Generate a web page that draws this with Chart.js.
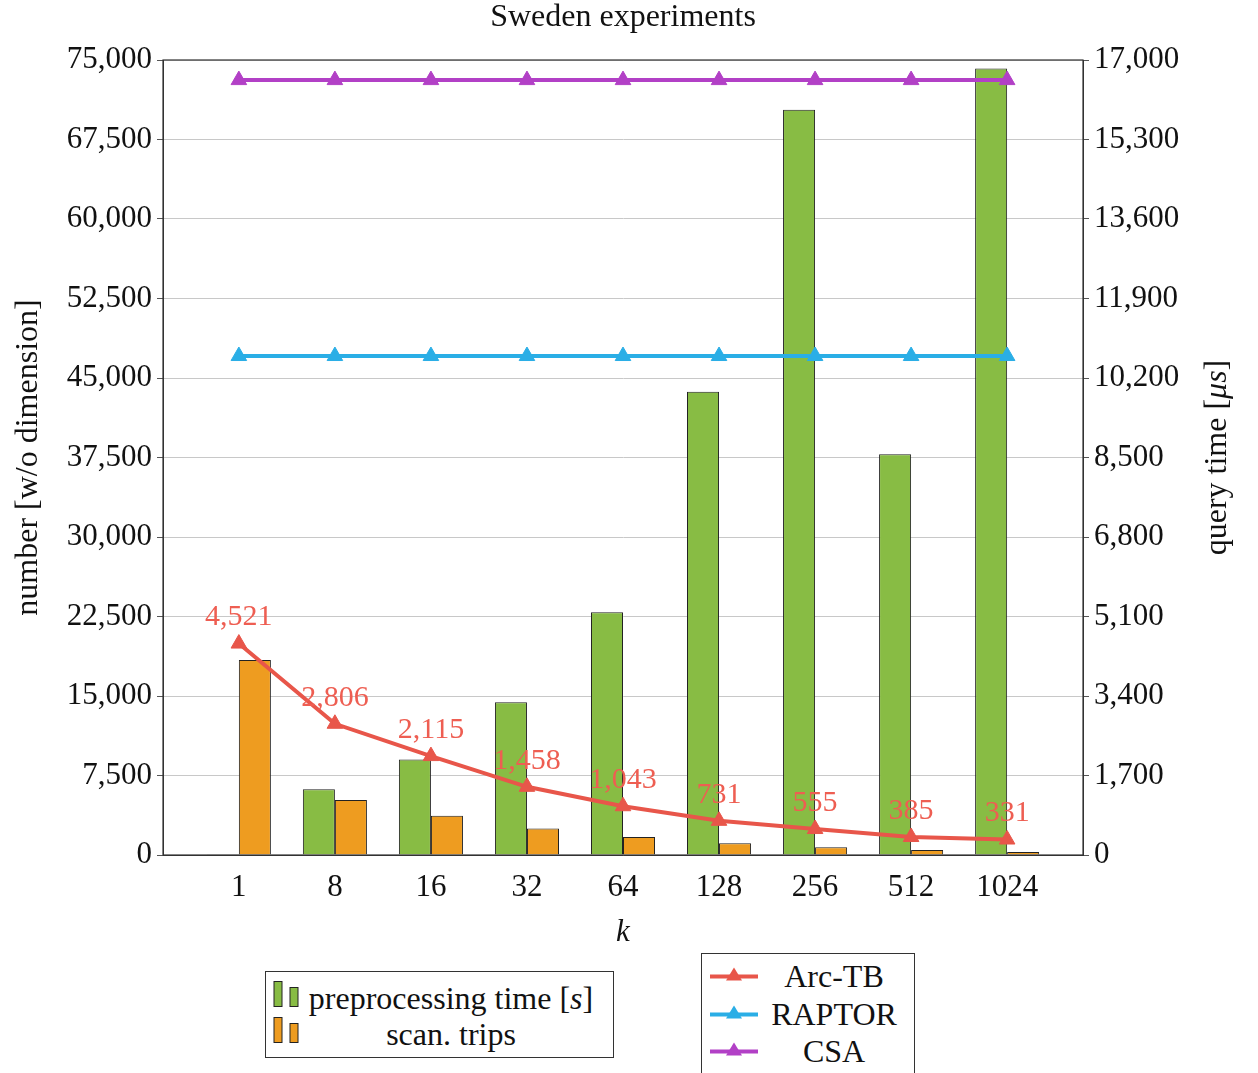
<!DOCTYPE html>
<html>
<head>
<meta charset="utf-8">
<script src="https://cdn.jsdelivr.net/npm/chart.js@4.4.1/dist/chart.umd.min.js"></script>
<style>
  body { margin: 0; background: #fff; }
  #wrap { position: relative; width: 1258px; height: 1073px; overflow: hidden; }
  #chart { position: absolute; left: 0; top: 0; }
  .legend { position: absolute; border: 1px solid #333; background: #fff; box-sizing: border-box;
            font-family: 'Liberation Serif', 'DejaVu Serif', serif; font-size: 32px; color: #111; }
  .legend .row { position: absolute; left: 0; right: 0; height: 36px; }
  .legend .txt { position: absolute; transform: translate(-50%, -50%); white-space: nowrap; top: 50%; }
  .legend .ico { position: absolute; top: 50%; transform: translateY(-50%); }
</style>
</head>
<body>
<div id="wrap">
  <canvas id="chart" width="1258" height="1073"></canvas>
</div>
<script>
// Sweden experiments
const categories = ['1', '8', '16', '32', '64', '128', '256', '512', '1024'];

const preprocessing = [60, 6200, 9000, 14400, 22900, 43700, 70300, 37800, 74200];
const scanTrips = [18400, 5200, 3700, 2500, 1700, 1100, 720, 470, 280];

const arcTB = [4521, 2806, 2115, 1458, 1043, 731, 555, 385, 331];
const raptor = [10670, 10670, 10670, 10670, 10670, 10670, 10670, 10670, 10670];
const csa = [16570, 16570, 16570, 16570, 16570, 16570, 16570, 16570, 16570];

const leftTicks = [0, 7500, 15000, 22500, 30000, 37500, 45000, 52500, 60000, 67500, 75000];
const rightTicks = [0, 1700, 3400, 5100, 6800, 8500, 10200, 11900, 13600, 15300, 17000];

const FONT = "'Liberation Serif', 'DejaVu Serif', serif";
const GREEN = '#88BC44';
const ORANGE = '#EE9C20';
const RED = '#E8564A';
const BLUE = '#2AAEE6';
const PURPLE = '#B240C6';

function fmt(v) {
    return String(v).replace(/\B(?=(\d{3})+(?!\d))/g, ',');
}
function pts(arr) {
    return arr.map((v, i) => ({ x: i, y: v }));
}

// frame around the plot area
const framePlugin = {
    id: 'frame',
    afterDraw(chart) {
        const a = chart.chartArea, ctx = chart.ctx;
        ctx.save();
        ctx.strokeStyle = '#333';
        ctx.lineWidth = 1.2;
        ctx.strokeRect(a.left, a.top, a.right - a.left, a.bottom - a.top);
        ctx.restore();
    }
};

// title centred over the plot area, right axis title reading bottom to top with italic unit
const titlesPlugin = {
    id: 'titles',
    afterDraw(chart) {
        const ctx = chart.ctx, a = chart.chartArea;
        ctx.save();
        ctx.fillStyle = '#111';
        ctx.textBaseline = 'middle';
        ctx.textAlign = 'center';
        ctx.font = '32px ' + FONT;
        ctx.fillText('Sweden experiments', (a.left + a.right) / 2, 18);

        const parts = [['query time [', ''], ['μs', 'italic '], [']', '']];
        let total = 0;
        parts.forEach(p => { ctx.font = p[1] + '32px ' + FONT; total += ctx.measureText(p[0]).width; });
        ctx.translate(1218, (a.top + a.bottom) / 2);
        ctx.rotate(-Math.PI / 2);
        ctx.textAlign = 'left';
        let x = -total / 2;
        parts.forEach(p => {
            ctx.font = p[1] + '32px ' + FONT;
            ctx.fillText(p[0], x, 0);
            x += ctx.measureText(p[0]).width;
        });
        ctx.restore();
    }
};

// value labels above the Arc-TB points
const labelPlugin = {
    id: 'arcLabels',
    afterDatasetsDraw(chart) {
        const ctx = chart.ctx;
        chart.data.datasets.forEach((ds, di) => {
            if (ds.label !== 'Arc-TB') return;
            const meta = chart.getDatasetMeta(di);
            ctx.save();
            ctx.font = '30px ' + FONT;
            ctx.fillStyle = '#EE5E52';
            ctx.textAlign = 'center';
            ctx.textBaseline = 'middle';
            meta.data.forEach((pt, i) => {
                ctx.fillText(fmt(arcTB[i]), pt.x, pt.y - 26);
            });
            ctx.restore();
        });
    }
};

const lineDefaults = {
    type: 'line',
    yAxisID: 'y1',
    borderWidth: 4,
    pointStyle: 'triangle',
    pointRadius: 9,
    pointBorderWidth: 1,
    tension: 0,
    order: 1
};

new Chart(document.getElementById('chart'), {
    type: 'bar',
    data: {
        datasets: [
            Object.assign({}, lineDefaults, { label: 'Arc-TB', data: pts(arcTB), borderColor: RED, backgroundColor: RED }),
            Object.assign({}, lineDefaults, { label: 'RAPTOR', data: pts(raptor), borderColor: BLUE, backgroundColor: BLUE }),
            Object.assign({}, lineDefaults, { label: 'CSA', data: pts(csa), borderColor: PURPLE, backgroundColor: PURPLE }),
            {
                label: 'preprocessing time [s]',
                data: pts(preprocessing),
                backgroundColor: GREEN,
                borderColor: '#222',
                borderWidth: 1,
                yAxisID: 'y',
                categoryPercentage: 0.667,
                barPercentage: 1,
                order: 2
            },
            {
                label: 'scan. trips',
                data: pts(scanTrips),
                backgroundColor: ORANGE,
                borderColor: '#222',
                borderWidth: 1,
                yAxisID: 'y',
                categoryPercentage: 0.667,
                barPercentage: 1,
                order: 2
            }
        ]
    },
    options: {
        responsive: false,
        animation: false,
        layout: { padding: { left: 0, right: 0, top: 60, bottom: 122 } },
        plugins: {
            legend: { display: false },
            tooltip: { enabled: false },
            title: { display: false }
        },
        scales: {
            x: {
                type: 'linear',
                offset: false,
                min: -0.79,
                max: 8.79,
                grid: { display: false, drawTicks: false },
                border: { display: true, color: '#333' },
                afterBuildTicks: (axis) => { axis.ticks = categories.map((c, i) => ({ value: i })); },
                ticks: {
                    autoSkip: false,
                    maxRotation: 0,
                    padding: 14,
                    color: '#111',
                    font: { family: FONT, size: 31 },
                    callback: (v) => categories[v]
                },
                title: {
                    display: true,
                    text: 'k',
                    color: '#111',
                    font: { family: FONT, size: 31, style: 'italic' },
                    padding: { top: 0, bottom: 0 }
                },
                afterFit: (s) => { s.height = 96; }
            },
            y: {
                type: 'linear',
                position: 'left',
                min: 0,
                max: 75000,
                afterBuildTicks: (axis) => { axis.ticks = leftTicks.map(v => ({ value: v })); },
                grid: { color: '#c8c8c8', tickColor: '#555', tickLength: 6 },
                border: { color: '#333' },
                ticks: {
                    padding: 5,
                    color: '#111',
                    font: { family: FONT, size: 31 },
                    callback: (v) => fmt(v)
                },
                title: {
                    display: true,
                    text: 'number [w/o dimension]',
                    color: '#111',
                    font: { family: FONT, size: 32 },
                    padding: { top: 9, bottom: 0 }
                },
                afterFit: (s) => { s.width = 163; }
            },
            y1: {
                type: 'linear',
                position: 'right',
                min: 0,
                max: 17000,
                afterBuildTicks: (axis) => { axis.ticks = rightTicks.map(v => ({ value: v })); },
                grid: { drawOnChartArea: false, tickColor: '#555', tickLength: 6 },
                border: { color: '#333' },
                ticks: {
                    padding: 5,
                    color: '#111',
                    font: { family: FONT, size: 31 },
                    callback: (v) => fmt(v)
                },
                title: { display: false },
                afterFit: (s) => { s.width = 175; }
            }
        }
    },
    plugins: [framePlugin, labelPlugin, titlesPlugin]
});

// legends (two boxes under the plot, as in the reference)
const wrap = document.getElementById('wrap');

function box(left, top, width, height) {
    const d = document.createElement('div');
    d.className = 'legend';
    Object.assign(d.style, { left: left + 'px', top: top + 'px', width: width + 'px', height: height + 'px' });
    wrap.appendChild(d);
    return d;
}

function row(parent, centerY, iconHtml, iconLeft, textHtml, textCenter) {
    const r = document.createElement('div');
    r.className = 'row';
    r.style.top = (centerY - 18) + 'px';
    r.innerHTML = '<div class="ico" style="left:' + iconLeft + 'px">' + iconHtml + '</div>' +
                  '<div class="txt" style="left:' + textCenter + 'px">' + textHtml + '</div>';
    parent.appendChild(r);
}

function barIcon(color) {
    return '<svg width="28" height="28"><rect x="1" y="1" width="8" height="25" fill="' + color + '" stroke="#222" stroke-width="1"/>' +
           '<rect x="17" y="7" width="8" height="19" fill="' + color + '" stroke="#222" stroke-width="1"/></svg>';
}
function lineIcon(color) {
    return '<svg width="48" height="22"><line x1="0" y1="12" x2="48" y2="12" stroke="' + color + '" stroke-width="4"/>' +
           '<polygon points="24,3 32,16 16,16" fill="' + color + '"/></svg>';
}

const barBox = box(265, 971, 349, 87);
row(barBox, 26, barIcon(GREEN), 7, 'preprocessing time [<i>s</i>]', 185);
row(barBox, 62, barIcon(ORANGE), 7, 'scan. trips', 185);

const lineBox = box(701, 953, 214, 140);
const lineNames = ['Arc-TB', 'RAPTOR', 'CSA'];
const lineColors = [RED, BLUE, PURPLE];
const lineRows = [22, 60, 97];
lineNames.forEach((n, i) => row(lineBox, lineRows[i], lineIcon(lineColors[i]), 8, n, 132));
</script>
</body>
</html>
